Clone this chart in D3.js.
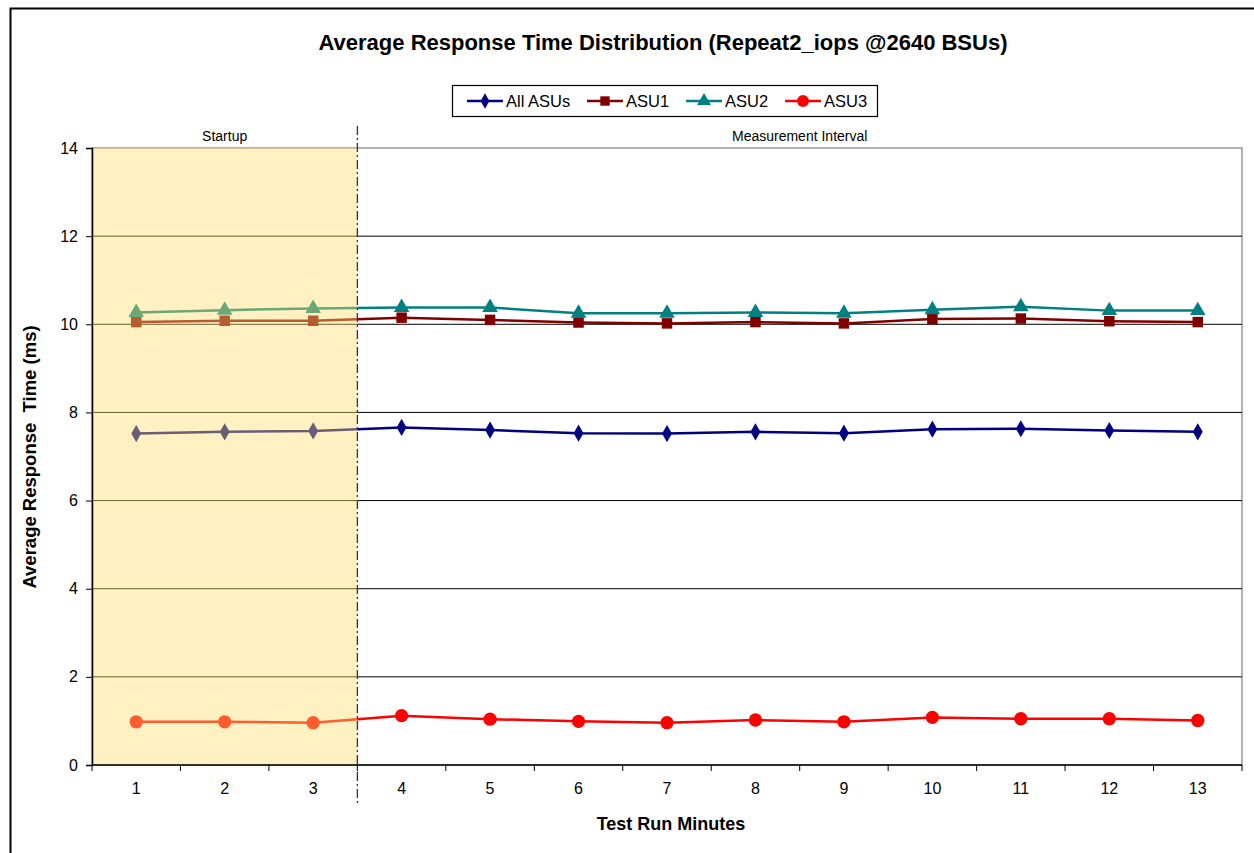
<!DOCTYPE html>
<html><head><meta charset="utf-8">
<script src="https://cdn.jsdelivr.net/npm/d3@7"></script>
<style>body{margin:0;background:#fff;} svg{display:block;font-family:"Liberation Sans",Arial,sans-serif;}</style>
</head><body>
<svg id="chart" width="1254" height="853"></svg>
<script>
const minutes = ["1","2","3","4","5","6","7","8","9","10","11","12","13"];
const allASUs = [7.52,7.56,7.58,7.66,7.60,7.53,7.52,7.56,7.53,7.62,7.63,7.59,7.56];
const asu1    = [10.05,10.08,10.08,10.15,10.10,10.04,10.02,10.05,10.02,10.12,10.13,10.07,10.05];
const asu2    = [10.27,10.32,10.36,10.38,10.38,10.25,10.25,10.27,10.25,10.33,10.40,10.31,10.31];
const asu3    = [0.98,0.98,0.96,1.12,1.04,0.99,0.96,1.02,0.98,1.08,1.05,1.05,1.01];
const seriesNames = ["All ASUs","ASU1","ASU2","ASU3"];
const yTicks = [0,2,4,6,8,10,12,14];
const startupCount = 3;

const series = [
  {name:seriesNames[0], values:allASUs, color:"#000080", marker:"diamond"},
  {name:seriesNames[1], values:asu1, color:"#800000", marker:"square"},
  {name:seriesNames[2], values:asu2, color:"#008080", marker:"triangle"},
  {name:seriesNames[3], values:asu3, color:"#FF0000", marker:"circle"}
];

const svg = d3.select("#chart");
const L=92, R=1242, T=148, B=765;
const x = d3.scaleBand().domain(minutes).range([L,R]);
const y = d3.scaleLinear().domain([0,14]).range([B,T]);

// outer border
svg.append("rect").attr("x",10.5).attr("y",8.5).attr("width",1260).attr("height",860)
  .attr("fill","none").attr("stroke","#000").attr("stroke-width",2);

// title
svg.append("text").attr("x",663).attr("y",50).attr("text-anchor","middle")
  .attr("font-size",22).attr("font-weight","bold")
  .text("Average Response Time Distribution (Repeat2_iops @2640 BSUs)");

// plot border
svg.append("rect").attr("x",L).attr("y",T).attr("width",R-L).attr("height",B-T)
  .attr("fill","none").attr("stroke","#999").attr("stroke-width",1.5);

// gridlines
svg.append("g").selectAll("line").data(yTicks.filter(d=>d>0&&d<14)).join("line")
  .attr("x1",L).attr("x2",R).attr("y1",d=>y(d)).attr("y2",d=>y(d))
  .attr("stroke","#000").attr("stroke-width",1);

// series lines + markers
const line = d3.line().x((d,i)=>x(minutes[i])+x.bandwidth()/2).y(d=>y(d));
const symbolMap = {diamond:d3.symbolDiamond, square:d3.symbolSquare, triangle:d3.symbolTriangle, circle:d3.symbolCircle};
const sizeMap = {diamond:85, square:110, triangle:105, circle:140};
series.forEach(s=>{
  svg.append("path").datum(s.values).attr("d",line).attr("fill","none")
    .attr("stroke",s.color).attr("stroke-width",2.5);
  svg.append("g").selectAll("path").data(s.values).join("path")
    .attr("transform",(d,i)=>`translate(${x(minutes[i])+x.bandwidth()/2},${y(d)})`)
    .attr("d",d3.symbol().type(symbolMap[s.marker]).size(sizeMap[s.marker]))
    .attr("fill",s.color);
});

// startup shade overlay
const sx2 = x(minutes[startupCount-1]) + x.bandwidth();
svg.append("rect").attr("x",L).attr("y",T).attr("width",sx2-L).attr("height",B-T)
  .attr("fill","rgb(255,222,110)").attr("opacity",0.42);

// axes
const yAxis = d3.axisLeft(y).tickValues(yTicks).tickSize(6).tickPadding(8);
const gy = svg.append("g").attr("transform",`translate(${L},0)`).call(yAxis);
gy.select(".domain").attr("stroke","#000").attr("stroke-width",1.5);
gy.selectAll("text").attr("font-size",16).attr("fill","#000").attr("font-family","Liberation Sans, Arial");

const gx = svg.append("g").attr("transform",`translate(0,${B})`);
gx.append("line").attr("x1",L).attr("x2",R).attr("y1",0).attr("y2",0).attr("stroke","#000").attr("stroke-width",1.5);
const bounds = minutes.map(m=>x(m)).concat([R]);
gx.selectAll("line.tk").data(bounds).join("line").attr("class","tk")
  .attr("x1",d=>d).attr("x2",d=>d).attr("y1",0).attr("y2",6).attr("stroke","#000");
gx.selectAll("text").data(minutes).join("text")
  .attr("x",d=>x(d)+x.bandwidth()/2).attr("y",29).attr("text-anchor","middle")
  .attr("font-size",16).text(d=>d);

// dash-dot divider
svg.append("line").attr("x1",sx2).attr("x2",sx2).attr("y1",126).attr("y2",806)
  .attr("stroke","#333").attr("stroke-width",1.3).attr("stroke-dasharray","9,3,2,3");

// region labels
svg.append("text").attr("x",(L+sx2)/2).attr("y",141).attr("text-anchor","middle").attr("font-size",14).text("Startup");
svg.append("text").attr("x",(sx2+R)/2).attr("y",141).attr("text-anchor","middle").attr("font-size",14).text("Measurement Interval");

// axis titles
svg.append("text").attr("x",671).attr("y",830).attr("text-anchor","middle")
  .attr("font-size",18).attr("font-weight","bold").text("Test Run Minutes");
svg.append("text").attr("transform",`translate(36,457) rotate(-90)`).attr("text-anchor","middle")
  .attr("font-size",18.5).attr("font-weight","bold").style("white-space","pre")
  .text("Average Response  Time (ms)");

// legend
const lg = svg.append("g");
lg.append("rect").attr("x",452.5).attr("y",85.5).attr("width",425).attr("height",31)
  .attr("fill","#fff").attr("stroke","#000").attr("stroke-width",1.2);
const legX = [467,587,686,785];
series.forEach((s,i)=>{
  const g = lg.append("g").attr("transform",`translate(${legX[i]},101)`);
  g.append("line").attr("x1",0).attr("x2",36).attr("y1",0).attr("y2",0).attr("stroke",s.color).attr("stroke-width",2.5);
  g.append("path").attr("transform","translate(18,0)")
    .attr("d",d3.symbol().type(symbolMap[s.marker]).size(sizeMap[s.marker]*0.8)).attr("fill",s.color);
  g.append("text").attr("x",39).attr("y",6).attr("font-size",16.5).text(s.name);
});
</script>
</body></html>
